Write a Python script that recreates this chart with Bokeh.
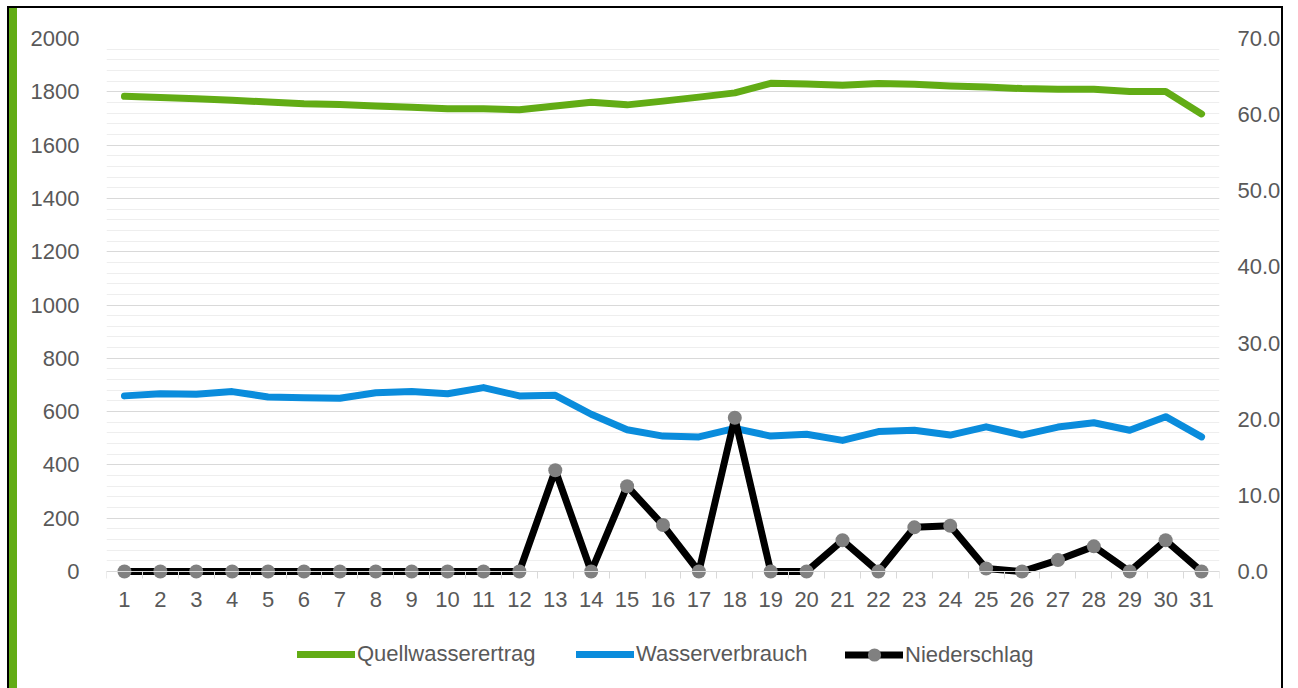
from bokeh.plotting import figure
from bokeh.models import (Range1d, LinearAxis, FixedTicker, PrintfTickFormatter,
                          Legend, LegendItem)
from bokeh.embed import file_html
from bokeh.resources import INLINE

days = list(range(1, 32))
day_labels = {d: str(d) for d in days}
quellwasserertrag = [1783, 1779, 1774, 1768, 1762, 1755, 1752, 1747, 1742, 1736, 1736, 1733,
                     1747, 1761, 1751, 1765, 1780, 1796, 1832, 1829, 1825, 1831, 1828, 1822,
                     1818, 1812, 1810, 1810, 1801, 1801, 1717]
wasserverbrauch = [659, 667, 665, 675, 655, 652, 650, 671, 675, 667, 690, 659, 661, 590, 532,
                   508, 505, 537, 508, 515, 492, 525, 530, 512, 543, 512, 542, 558, 530, 581, 505]
niederschlag = [0, 0, 0, 0, 0, 0, 0, 0, 0, 0, 0, 0, 13.3, 0, 11.2, 6.1, 0, 20.2, 0, 0, 4.1, 0,
                5.8, 6.0, 0.4, 0, 1.5, 3.3, 0, 4.1, 0]
left_ticks = list(range(0, 2001, 200))
left_minor = list(range(0, 2001, 40))
right_ticks = list(range(0, 71, 10))
names = ["Quellwasserertrag", "Wasserverbrauch", "Niederschlag"]

FONT = "Liberation Sans"
FS = "22px"
TXT = "#595959"
GREEN = "#62AC15"
BLUE = "#0A8CDC"

# layout (canvas pixels)
W, H = 1283, 688
FRAME_TOP, ZERO_Y = 38, 571
LEFT_MAX, RIGHT_MAX = 2000, 70
extra = (H - ZERO_Y) / (ZERO_Y - FRAME_TOP)   # room below the value axis, for labels + legend

p = figure(width=W, height=H, x_range=Range1d(0.5, 31.5),
           y_range=Range1d(-LEFT_MAX * extra, LEFT_MAX),
           output_backend="svg", toolbar_location=None,
           min_border_left=106, min_border_right=61, min_border_top=FRAME_TOP,
           min_border_bottom=0)
p.extra_y_ranges = {"right": Range1d(-RIGHT_MAX * extra, RIGHT_MAX)}
p.outline_line_color = None
p.background_fill_color = "white"
p.border_fill_color = "white"
p.border_fill_alpha = 0
p.styles = {
    "box-shadow": ("inset 7px 6px 0 0 white, inset 9px 8px 0 0 black, "
                   "inset 17px 0 0 0 #62AC15, inset -2px 0 0 0 black"),
}

# grid
p.xgrid.visible = False
p.ygrid.ticker = FixedTicker(ticks=left_ticks, minor_ticks=left_minor)
p.ygrid.grid_line_color = "#D9D9D9"
p.ygrid.grid_line_width = 1
p.ygrid.minor_grid_line_color = "#EEEEEE"
p.ygrid.minor_grid_line_width = 1

# left axis
ya = p.yaxis[0]
ya.ticker = FixedTicker(ticks=left_ticks, minor_ticks=left_minor)
ya.axis_line_color = None
ya.major_tick_line_color = None
ya.minor_tick_line_color = None
ya.major_tick_out = 0
ya.major_label_standoff = 23
ya.major_label_text_font = FONT
ya.major_label_text_font_size = FS
ya.major_label_text_color = TXT

# right axis
ra = LinearAxis(y_range_name="right", ticker=FixedTicker(ticks=right_ticks),
                formatter=PrintfTickFormatter(format="%.1f"))
ra.axis_line_color = None
ra.major_tick_line_color = None
ra.minor_tick_line_color = None
ra.major_tick_out = 0
ra.major_label_standoff = 18
ra.major_label_text_font = FONT
ra.major_label_text_font_size = FS
ra.major_label_text_color = TXT
p.add_layout(ra, "right")

# x axis, drawn at value 0
xa = p.xaxis[0]
xa.fixed_location = 0
xa.ticker = FixedTicker(ticks=days, minor_ticks=[d - 0.5 for d in days] + [31.5])
xa.major_label_overrides = day_labels
xa.axis_line_color = "#D9D9D9"
xa.axis_line_width = 1
xa.major_tick_line_color = None
xa.major_tick_out = 0
xa.minor_tick_line_color = "#D9D9D9"
xa.minor_tick_out = 7
xa.minor_tick_in = 0
xa.major_label_standoff = 13
xa.major_label_text_font = FONT
xa.major_label_text_font_size = FS
xa.major_label_text_color = TXT

r1 = p.line(days, quellwasserertrag, line_color=GREEN, line_width=7,
            line_cap="round", line_join="round")
r2 = p.line(days, wasserverbrauch, line_color=BLUE, line_width=7,
            line_cap="round", line_join="round")
r3 = p.line(days, niederschlag, line_color="black", line_width=7,
            line_cap="round", line_join="round", y_range_name="right")
r4 = p.scatter(days, niederschlag, marker="circle", size=14, fill_color="#808080",
               line_color=None, y_range_name="right")

for name, rends, vx, gh, vy in [(names[0], [r1], 191, 20, 21),
                                (names[1], [r2], 470, 20, 21),
                                (names[2], [r3, r4], 739, 33, 17)]:
    lg = Legend(items=[LegendItem(label=name, renderers=rends)], location=(vx, vy),
                orientation="horizontal", padding=0, margin=0, spacing=0,
                glyph_width=58, glyph_height=gh, label_standoff=2,
                label_text_font=FONT, label_text_font_size=FS, label_text_color=TXT,
                border_line_color=None, background_fill_alpha=0)
    p.add_layout(lg)

open("out.html", "w").write(file_html(p, INLINE))
